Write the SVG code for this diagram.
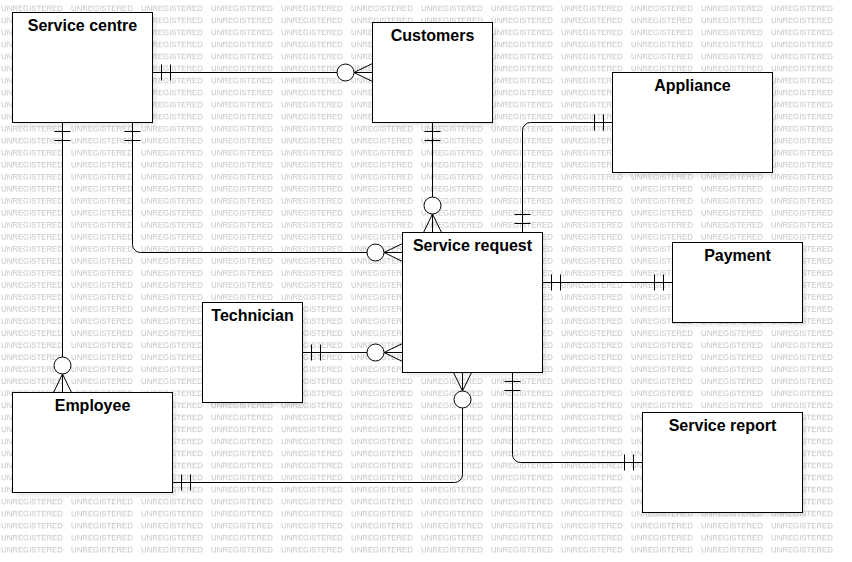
<svg xmlns="http://www.w3.org/2000/svg" width="852" height="562" viewBox="0 0 852 562">
<style>
.box{fill:#fff;stroke:#000;stroke-width:1}
.shadow{fill:#000;fill-opacity:0.07;filter:url(#blur)}
.title{font-family:"Liberation Sans",Arial,sans-serif;font-size:16px;font-weight:bold;fill:#000;text-anchor:middle}
.wm{font-family:"Liberation Sans",Arial,sans-serif;font-size:7.8px;fill:#c4c4c4}
.conn{fill:none;stroke:#000;stroke-width:1}
.mk{fill:none;stroke:#000;stroke-width:1}
</style>
<defs>
<filter id="blur" x="-10%" y="-10%" width="120%" height="120%"><feGaussianBlur stdDeviation="1.5"/></filter>
<pattern id="wmp" patternUnits="userSpaceOnUse" x="1" y="0" width="70" height="12.03">
<text class="wm" x="0" y="11">UNREGISTERED</text>
</pattern>
<marker id="one" markerUnits="userSpaceOnUse" viewBox="-30 -12 32 24" refX="0" refY="0" markerWidth="32" markerHeight="24" orient="auto-start-reverse" overflow="visible">
<path class="mk" d="M-9,-8 V8 M-18,-8 V8"/>
</marker>
<marker id="zmany" markerUnits="userSpaceOnUse" viewBox="-40 -12 42 24" refX="0" refY="0" markerWidth="42" markerHeight="24" orient="auto-start-reverse" overflow="visible">
<path class="mk" d="M0,-9 L-18.5,0 L0,9"/>
<circle cx="-27" cy="0" r="8.5" fill="#fff" stroke="#000" stroke-width="1"/>
</marker>
</defs>
<rect x="0" y="0" width="852" height="562" fill="#fff"/>
<rect x="0" y="0" width="838" height="556" fill="url(#wmp)"/>

<g id="service-centre">
<rect class="shadow" x="16.5" y="16.5" width="140" height="110"/>
<rect class="box" x="12.5" y="12.5" width="140" height="110"/>
<text class="title" x="82.5" y="31">Service centre</text>
</g>
<g id="customers">
<rect class="shadow" x="376.5" y="26.5" width="120" height="100"/>
<rect class="box" x="372.5" y="22.5" width="120" height="100"/>
<text class="title" x="432.5" y="41">Customers</text>
</g>
<g id="appliance">
<rect class="shadow" x="616.5" y="76.5" width="160" height="100"/>
<rect class="box" x="612.5" y="72.5" width="160" height="100"/>
<text class="title" x="692.5" y="91">Appliance</text>
</g>
<g id="service-request">
<rect class="shadow" x="406.5" y="236.5" width="140" height="140"/>
<rect class="box" x="402.5" y="232.5" width="140" height="140"/>
<text class="title" x="472.5" y="251">Service request</text>
</g>
<g id="payment">
<rect class="shadow" x="676.5" y="246.5" width="130" height="80"/>
<rect class="box" x="672.5" y="242.5" width="130" height="80"/>
<text class="title" x="737.5" y="261">Payment</text>
</g>
<g id="technician">
<rect class="shadow" x="206.5" y="306.5" width="100" height="100"/>
<rect class="box" x="202.5" y="302.5" width="100" height="100"/>
<text class="title" x="252.5" y="321">Technician</text>
</g>
<g id="employee">
<rect class="shadow" x="16.5" y="396.5" width="160" height="100"/>
<rect class="box" x="12.5" y="392.5" width="160" height="100"/>
<text class="title" x="92.5" y="411">Employee</text>
</g>
<g id="service-report">
<rect class="shadow" x="646.5" y="416.5" width="160" height="100"/>
<rect class="box" x="642.5" y="412.5" width="160" height="100"/>
<text class="title" x="722.5" y="431">Service report</text>
</g>

<g id="connectors">
<path class="conn" d="M152.5,72.5 H372.5" marker-start="url(#one)" marker-end="url(#zmany)"/>
<path class="conn" d="M132.5,122.5 V244.5 A8,8 0 0 0 140.5,252.5 H402.5" marker-start="url(#one)" marker-end="url(#zmany)"/>
<path class="conn" d="M62.5,122.5 V392.5" marker-start="url(#one)" marker-end="url(#zmany)"/>
<path class="conn" d="M432.5,122.5 V232.5" marker-start="url(#one)" marker-end="url(#zmany)"/>
<path class="conn" d="M612.5,122.5 H530.5 A8,8 0 0 0 522.5,130.5 V232.5" marker-start="url(#one)" marker-end="url(#one)"/>
<path class="conn" d="M542.5,282.5 H672.5" marker-start="url(#one)" marker-end="url(#one)"/>
<path class="conn" d="M302.5,352.5 H402.5" marker-start="url(#one)" marker-end="url(#zmany)"/>
<path class="conn" d="M172.5,482.5 H454.5 A8,8 0 0 0 462.5,474.5 V372.5" marker-start="url(#one)" marker-end="url(#zmany)"/>
<path class="conn" d="M512.5,372.5 V454.5 A8,8 0 0 0 520.5,462.5 H642.5" marker-start="url(#one)" marker-end="url(#one)"/>
</g>
</svg>
